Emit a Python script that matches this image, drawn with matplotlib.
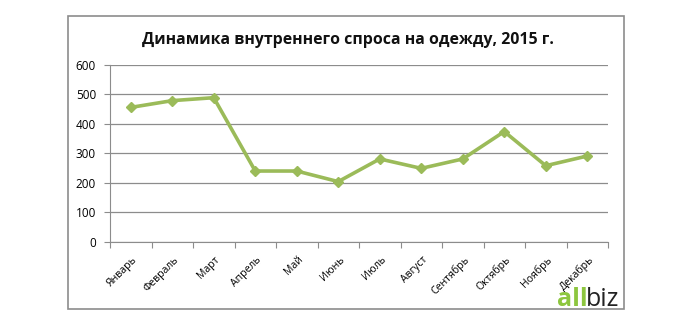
import matplotlib
matplotlib.use('Agg')
import matplotlib.pyplot as plt
from matplotlib import patches

# Data
months = ['Январь', 'Февраль', 'Март', 'Апрель', 'Май', 'Июнь',
          'Июль', 'Август', 'Сентябрь', 'Октябрь', 'Ноябрь', 'Декабрь']
demand = [456, 479, 489, 240, 240, 204, 281, 249, 281, 374, 258, 291]
y_ticks = [0, 100, 200, 300, 400, 500, 600]

plt.rcParams['font.family'] = ['Open Sans', 'DejaVu Sans']

fig = plt.figure(figsize=(7, 3.27), dpi=100)
ax = fig.add_axes([110 / 700, 1 - 241.7 / 327, 498 / 700, 176.7 / 327])

# Outer chart frame
frame = patches.Rectangle(
    (68 / 700, 1 - 309 / 327), 556 / 700, 293 / 327,
    transform=fig.transFigure, fill=False,
    edgecolor='#8c8c8c', linewidth=1.2
)
fig.add_artist(frame)

x = list(range(len(months)))
ax.plot(x, demand, color='#9BBB59', linewidth=2.6,
        marker='D', markersize=5, markerfacecolor='#9BBB59',
        markeredgecolor='#9BBB59', zorder=3)

ax.set_xlim(-0.5, len(months) - 0.5)
ax.set_ylim(0, 600)
ax.set_yticks(y_ticks)
ax.yaxis.grid(True, color='#8c8c8c', linewidth=0.9)
ax.set_axisbelow(True)

# Category ticks sit between the months, like Excel
ax.set_xticks([i - 0.5 for i in range(len(months) + 1)])
ax.set_xticklabels([])
ax.set_xticks([i + 0.02 for i in x], minor=True)
ax.set_xticklabels(months, minor=True, rotation=45, ha='right',
                   rotation_mode='anchor', fontsize=7.6)
ax.tick_params(axis='x', which='minor', length=0, pad=9)
ax.tick_params(axis='x', which='major', length=4, color='#8c8c8c')
ax.tick_params(axis='y', length=4, color='#8c8c8c', labelsize=8.5, pad=6)

for side in ['top', 'right']:
    ax.spines[side].set_visible(False)
ax.spines['left'].set_color('#8c8c8c')
ax.spines['bottom'].set_color('#8c8c8c')

fig.text(348 / 700, 1 - 40 / 327, 'Динамика внутреннего спроса на одежду, 2015 г.',
         ha='center', va='center', fontsize=11.4, fontweight='bold', color='#111111')

# allbiz logo
fig.text(557 / 700, 1 - 299 / 327, 'all', color='#8DC63F', fontsize=18,
         ha='left', va='center', fontweight='bold')
fig.text(586 / 700, 1 - 299 / 327, 'biz', color='#222222', fontsize=18,
         ha='left', va='center')

fig.savefig('out.png', dpi=100)
